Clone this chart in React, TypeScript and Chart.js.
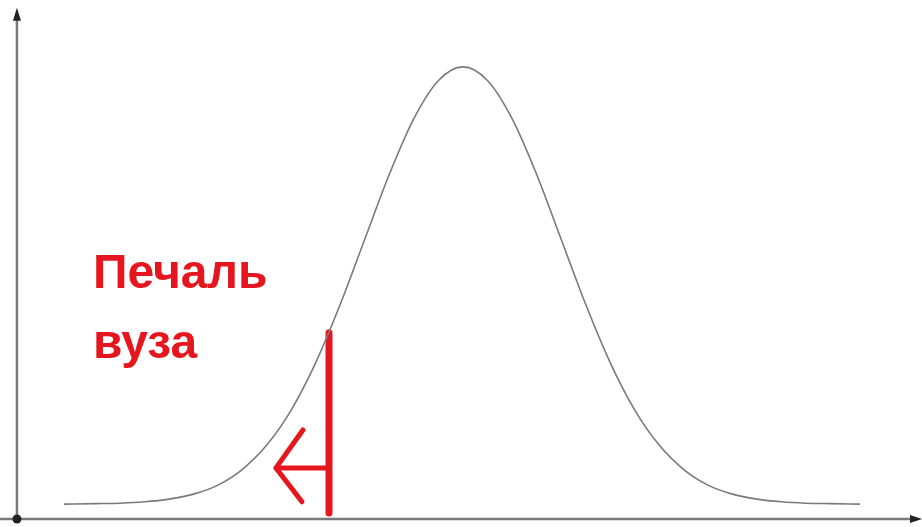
import React, { useEffect, useRef } from "react";
import { Chart, registerables } from "chart.js";

Chart.register(...registerables);

// Bell curve (x in standard deviations, y in % of peak height above axis)
const curveX = [-4.07, -3.75, -3.5, -3.25, -3, -2.75, -2.5, -2.25, -2, -1.75, -1.5, -1.25, -1, -0.75, -0.5, -0.25, 0,
  0.25, 0.5, 0.75, 1, 1.25, 1.5, 1.75, 2, 2.25, 2.5, 2.75, 3, 3.25, 3.5, 3.75, 4.05];
const curveY = [3.3, 3.4, 3.5, 3.8, 4.4, 5.5, 7.5, 11.0, 16.4, 24.2, 34.7, 47.6, 62.0, 76.3, 88.6, 97.0, 100,
  97.0, 88.6, 76.3, 62.0, 47.6, 34.7, 24.2, 16.4, 11.0, 7.5, 5.5, 4.4, 3.8, 3.5, 3.4, 3.3];

// Axis extents
const xRange = [-4.724, 4.684];
const yRange = [-1.77, 114.8];
const yAxisX = -4.551;
const yAxisTop = 113.1;

// Cut-off line and arrow
const cutX = -1.367;
const cutY = [1.3, 41.2];
const arrowTip = { x: -1.908, y: 11.3 };
const arrowWings = [{ x: -1.633, y: 19.7 }, { x: -1.643, y: 3.8 }];

// Label
const labelLines = ["Печаль", "вуза"];
const labelPos = [{ x: -3.776, y: 51.1 }, { x: -3.776, y: 35.6 }];

const RED = "#e6161f";
const GRAY = "#7a7a7a";

export default function App() {
  const ref = useRef<HTMLCanvasElement | null>(null);

  useEffect(() => {
    document.body.style.margin = "0";
    const canvas = ref.current;
    if (!canvas) return;

    const overlay = {
      id: "overlay",
      afterDatasetsDraw(chart: any) {
        const { ctx, scales } = chart;
        const xs = scales.x, ys = scales.y;
        ctx.save();
        // Y axis arrowhead
        const ax = xs.getPixelForValue(yAxisX);
        const ay = ys.getPixelForValue(yAxisTop);
        ctx.fillStyle = "#222";
        ctx.beginPath();
        ctx.moveTo(ax, ay);
        ctx.lineTo(ax - 4, ay + 13);
        ctx.lineTo(ax + 4, ay + 13);
        ctx.closePath();
        ctx.fill();
        // X axis arrowhead
        const bx = xs.getPixelForValue(xRange[1]);
        const by = ys.getPixelForValue(0);
        ctx.beginPath();
        ctx.moveTo(bx, by);
        ctx.lineTo(bx - 12, by - 4);
        ctx.lineTo(bx - 12, by + 4);
        ctx.closePath();
        ctx.fill();
        // origin dot
        ctx.beginPath();
        ctx.arc(ax, by, 4.5, 0, Math.PI * 2);
        ctx.fill();
        // label
        ctx.fillStyle = RED;
        ctx.font = 'bold 48px "Liberation Sans", Arial, sans-serif';
        ctx.textBaseline = "alphabetic";
        labelLines.forEach((t, i) => {
          ctx.fillText(t, xs.getPixelForValue(labelPos[i].x), ys.getPixelForValue(labelPos[i].y));
        });
        ctx.restore();
      },
    };

    const chart = new Chart(canvas, {
      type: "line",
      data: {
        datasets: [
          {
            data: curveX.map((x, i) => ({ x, y: curveY[i] })),
            borderColor: GRAY,
            borderWidth: 1.6,
            pointRadius: 0,
            cubicInterpolationMode: "monotone",
          },
          {
            data: [{ x: yAxisX, y: 0 }, { x: yAxisX, y: yAxisTop - 2 }],
            borderColor: GRAY,
            borderWidth: 2.5,
            pointRadius: 0,
          },
          {
            data: [{ x: xRange[0], y: 0 }, { x: xRange[1] - 0.05, y: 0 }],
            borderColor: GRAY,
            borderWidth: 2.5,
            pointRadius: 0,
          },
          {
            data: [{ x: cutX, y: cutY[0] }, { x: cutX, y: cutY[1] }],
            borderColor: RED,
            borderWidth: 7,
            borderCapStyle: "round",
            pointRadius: 0,
          },
          {
            data: [{ x: cutX, y: arrowTip.y }, arrowTip],
            borderColor: RED,
            borderWidth: 5,
            borderCapStyle: "round",
            pointRadius: 0,
          },
          {
            data: [arrowWings[0], arrowTip, arrowWings[1]],
            borderColor: RED,
            borderWidth: 5,
            borderCapStyle: "round",
            borderJoinStyle: "round",
            pointRadius: 0,
          },
        ],
      },
      options: {
        animation: false,
        responsive: false,
        maintainAspectRatio: false,
        layout: { padding: 0 },
        plugins: { legend: { display: false }, tooltip: { enabled: false } },
        scales: {
          x: { type: "linear", min: xRange[0], max: xRange[1], display: false },
          y: { type: "linear", min: yRange[0], max: yRange[1], display: false },
        },
      },
      plugins: [overlay],
    } as any);

    return () => chart.destroy();
  }, []);

  return (
    <div style={{ width: 922, height: 527, background: "#fff" }}>
      <canvas ref={ref} width={922} height={527} style={{ display: "block" }} />
    </div>
  );
}
